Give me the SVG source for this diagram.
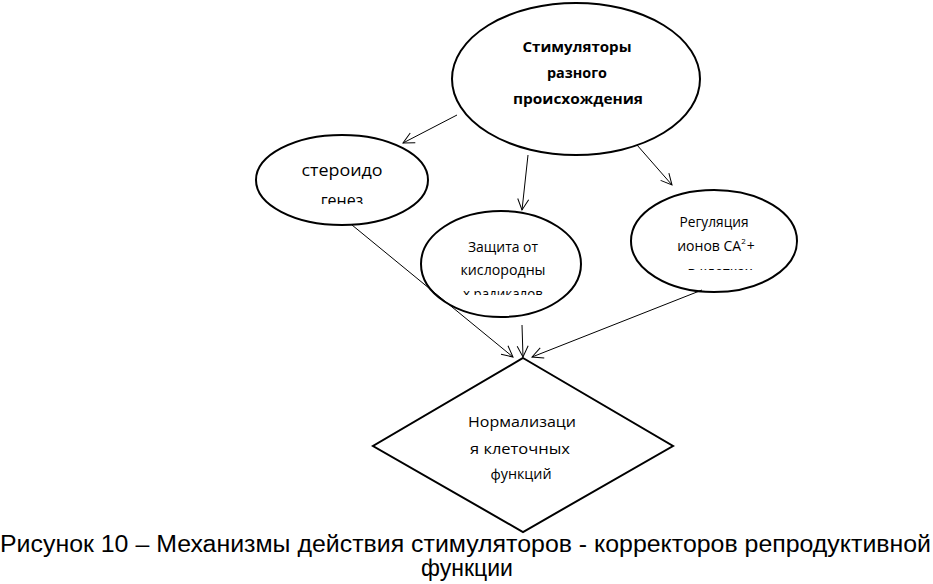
<svg xmlns="http://www.w3.org/2000/svg" width="933" height="584" viewBox="0 0 933 584">
<style>
.shape{fill:#fff;stroke:#000;stroke-width:2}
.conn line{stroke:#000;stroke-width:1;fill:none}
.t{font-family:"Open Sans","Noto Sans",sans-serif;font-size:14px;fill:#000;text-anchor:middle}
.b{font-weight:bold;font-size:15px}
.cap{font-family:"Liberation Sans",Arial,sans-serif;font-size:23px;fill:#000}
</style>
<defs>
<marker id="arr" markerUnits="userSpaceOnUse" markerWidth="16" markerHeight="14" refX="12" refY="7" orient="auto">
<path d="M1,1.5 L12,7 L1,12.5" fill="none" stroke="#000" stroke-width="1"/>
</marker>
<clipPath id="c1"><rect x="250" y="140" width="190" height="64"/></clipPath>
<clipPath id="c2"><rect x="420" y="215" width="170" height="80"/></clipPath>
<clipPath id="c3"><rect x="630" y="195" width="170" height="75"/></clipPath>
</defs>
<g id="main">
<ellipse class="shape" cx="576" cy="79" rx="124" ry="76"/>
<text class="t b" x="577" y="52" textLength="109" lengthAdjust="spacingAndGlyphs">Стимуляторы</text>
<text class="t b" x="577" y="78" textLength="60" lengthAdjust="spacingAndGlyphs">разного</text>
<text class="t b" x="578" y="104" textLength="130" lengthAdjust="spacingAndGlyphs">происхождения</text>
</g>
<g id="steroid">
<ellipse class="shape" cx="342" cy="180" rx="86" ry="45"/>
<g clip-path="url(#c1)">
<text class="t" style="font-size:16px" x="342" y="176" textLength="81" lengthAdjust="spacingAndGlyphs">стероидо</text>
<text class="t" style="font-size:16px" x="342" y="206">генез</text>
</g>
</g>
<g id="defense">
<ellipse class="shape" cx="501" cy="264" rx="80" ry="53"/>
<g clip-path="url(#c2)">
<text class="t" x="503" y="252" textLength="70" lengthAdjust="spacingAndGlyphs">Защита от</text>
<text class="t" x="503" y="275" textLength="85" lengthAdjust="spacingAndGlyphs">кислородны</text>
<text class="t" x="503" y="299" textLength="80" lengthAdjust="spacingAndGlyphs">х радикалов</text>
</g>
</g>
<g id="regulation">
<ellipse class="shape" cx="714" cy="241" rx="83" ry="51"/>
<g clip-path="url(#c3)">
<text class="t" x="714" y="227" textLength="69" lengthAdjust="spacingAndGlyphs">Регуляция</text>
<text class="t" x="716" y="251">ионов СА<tspan dy="-7" font-size="8">2</tspan><tspan dy="7" dx="1">+</tspan></text>
<text class="t" x="720" y="276.5" textLength="65" lengthAdjust="spacingAndGlyphs">в клетках</text>
</g>
</g>
<g id="normalization">
<polygon class="shape" points="523,358 673,446 523,532 373,446"/>
<text class="t" x="522" y="427" textLength="108" lengthAdjust="spacingAndGlyphs">Нормализаци</text>
<text class="t" x="520" y="454" textLength="100" lengthAdjust="spacingAndGlyphs">я клеточных</text>
<text class="t" x="521" y="479" textLength="61" lengthAdjust="spacingAndGlyphs">функций</text>
</g>
<g id="connectors" class="conn">
<line x1="457" y1="115" x2="403" y2="143" marker-end="url(#arr)"/>
<line x1="528" y1="155" x2="522" y2="210" marker-end="url(#arr)"/>
<line x1="637" y1="145" x2="672" y2="185" marker-end="url(#arr)"/>
<line x1="352" y1="225" x2="513" y2="357" marker-end="url(#arr)"/>
<line x1="522" y1="325" x2="523" y2="357" marker-end="url(#arr)"/>
<line x1="702" y1="290" x2="532" y2="357" marker-end="url(#arr)"/>
</g>
<g id="caption">
<text class="cap" x="0" y="552" textLength="931" lengthAdjust="spacingAndGlyphs">Рисунок 10 – Механизмы действия стимуляторов - корректоров репродуктивной</text>
<text class="cap" x="467" y="576" text-anchor="middle">функции</text>
</g>
</svg>
